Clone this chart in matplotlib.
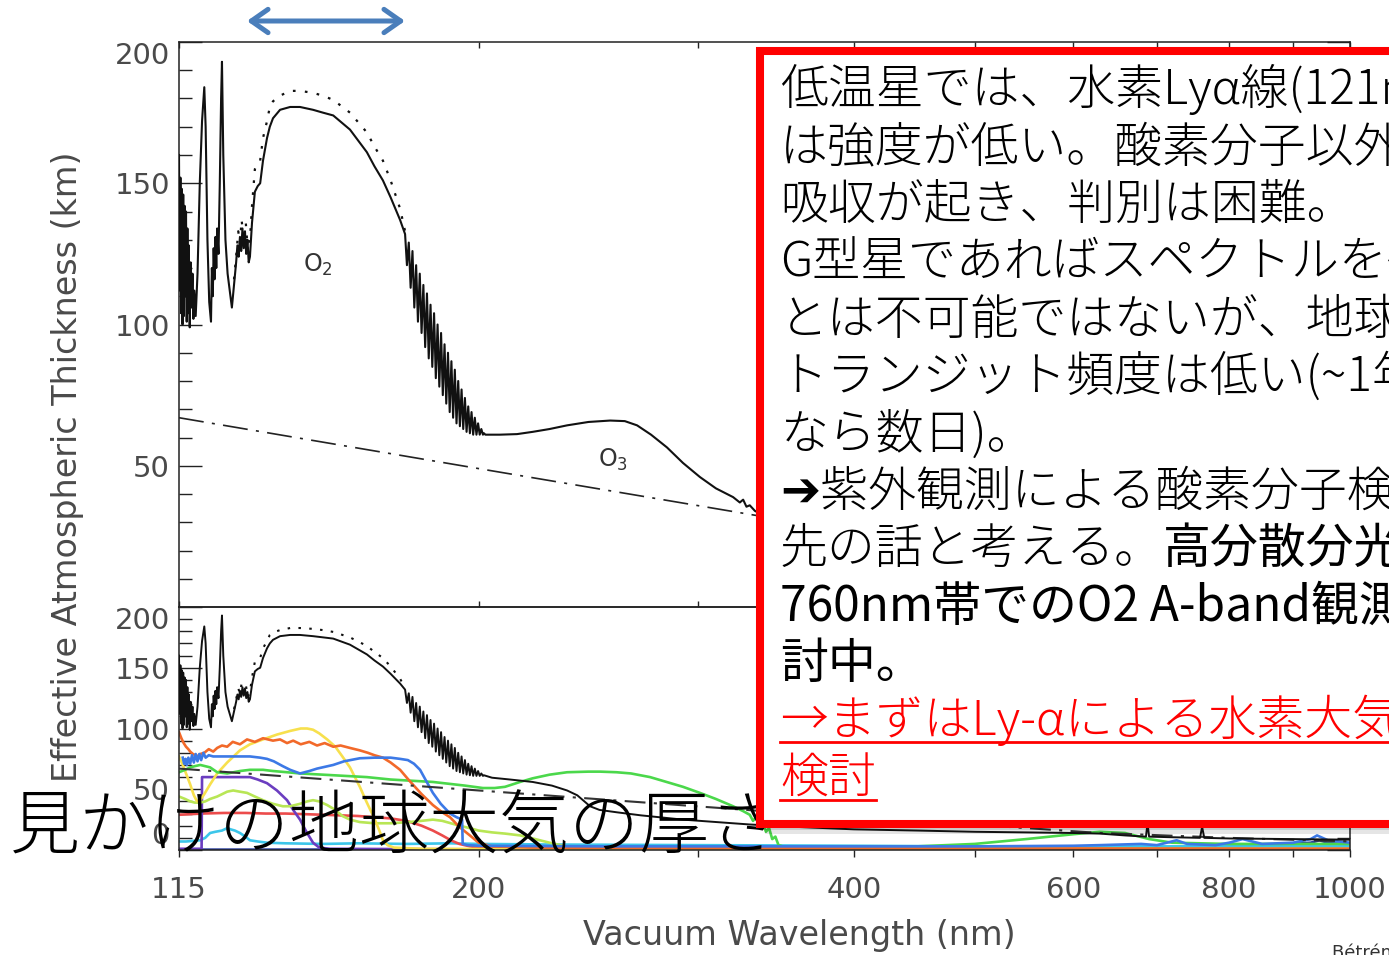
import matplotlib
matplotlib.use('Agg')
import matplotlib.pyplot as plt
from matplotlib import font_manager as fm
from matplotlib.patches import Rectangle, FancyArrowPatch
from matplotlib.lines import Line2D
from matplotlib.ticker import FixedLocator, NullFormatter

# ---------------- data (wavelength nm, effective thickness km) ----------------
# O2-dominated far-UV part (shared by both panels)
uv_wl = [115.0, 115.15, 115.3, 115.45, 115.6, 115.75, 115.9, 116.05, 116.2, 116.35, 116.5, 116.65,
         116.8, 116.95, 117.1, 117.3, 117.5, 117.7, 117.9, 118.1, 118.3, 118.6, 119.0, 119.5, 120.0,
         120.5, 120.8, 121.2, 121.6, 122.0, 122.2, 122.4, 122.6, 122.8, 123.0, 123.2, 123.4, 123.7,
         124.0, 124.3, 124.5, 124.8, 125.3, 125.8, 126.3, 126.8, 127.3, 127.8, 128.1, 128.4, 128.7,
         129.0, 129.3, 129.6, 129.9, 130.2, 130.5, 130.8, 131.1, 131.6, 132.3, 133.0, 133.6, 134.3,
         135.3, 136.0, 136.8, 138.6, 141.2, 143.8, 147.3, 150.0, 152.9, 157.7, 162.7, 165.0, 167.6,
         170.0, 173.0, 174.6,
         175.2, 175.8, 176.4, 177.0, 177.6, 178.2, 178.8, 179.4, 180.0, 180.6, 181.2, 181.8, 182.4,
         183.0, 183.6, 184.2, 184.8, 185.4, 186.0, 186.6, 187.2, 187.8, 188.4, 189.0, 189.6, 190.2,
         190.8, 191.4, 192.0, 192.6, 193.2, 193.8, 194.4, 195.0, 195.6, 196.2, 196.8, 197.4, 198.0,
         198.6, 199.2, 199.8, 200.4, 201.0, 201.6, 202.0]
uv_km = [160, 112, 152, 104, 148, 100, 146, 103, 142, 110, 140, 101,
         134, 104, 128, 99, 122, 106, 118, 102, 112, 103, 118, 150, 172,
         184, 170, 130, 108, 101, 120, 110, 127, 116, 131, 120, 134, 125,
         150, 180, 193, 160, 130, 118, 112, 106, 114, 122, 128, 124, 131,
         126, 134, 127, 133, 125, 130, 122, 124, 136, 147, 149, 150, 158,
         166, 170, 173, 176, 177, 177, 176, 175, 174, 169, 161, 156, 151,
         145, 137, 132,
         121, 129, 113, 126, 106, 121, 101, 118, 97, 114, 92, 111, 88,
         107, 85, 104, 81, 100, 78, 97, 75, 93, 72, 90, 69, 87,
         67, 84, 65, 80, 64, 77, 63, 74, 62, 71, 61.5, 69, 61,
         67, 61, 65, 61, 63, 61, 61.5]

# top panel continuation (O3 Hartley band)
top_tail_wl = [202.5, 208, 214.7, 221, 228, 235.5, 245, 255, 262, 268, 275, 283.2, 291.7, 301, 310,
               320, 324, 326, 328, 330, 333.2, 340, 350]
top_tail_km = [61, 61, 61.2, 62, 63, 64.3, 65.5, 66, 65.8, 64.3, 61, 56.5, 51, 46, 42,
               38.9, 37, 38, 35.5, 36, 34, 32, 30]

# bottom panel continuation of the total curve
bot_tail_wl = [205, 212, 221, 229, 235.5, 240, 242.5, 245.7, 250, 258.3, 270, 291.7, 310, 330, 360,
               400, 450, 500, 550, 600, 630, 660, 686, 688, 690, 720, 758, 761, 764, 800, 900, 1000]
bot_tail_km = [59.5, 58, 56, 53, 49, 45, 41, 36, 33, 31, 28.5, 25, 23, 21, 19,
               17, 16, 15, 14.5, 14, 13.5, 12, 11, 22, 11, 10.5, 10, 19, 10, 9.5, 9, 8.5]

# dotted curve (upper O2 envelope)
dot_wl = [127.3, 127.8, 128.3, 128.7, 129.1, 129.6, 130.1, 130.6, 131.1, 131.6, 132.3, 133.0, 133.6,
          134.3, 135.3, 136.0, 136.8, 138.6, 141.2, 143.8, 147.3, 150.0, 152.9, 157.7, 162.7, 165.0,
          167.6, 170.0, 173.0, 174.6]
dot_km = [116, 124, 133, 129, 137, 130, 136, 126, 130, 142, 155, 157, 158,
          166, 172, 177, 179, 181, 182.7, 182.7, 182, 181, 179.5, 175, 168, 163,
          158, 151, 141, 133]

# Rayleigh (dash-dot)
ray_wl = [115, 200, 333, 450, 630, 800, 1000]
ray_km = [67, 49, 32.5, 24, 14, 10, 7]

# coloured curves of the lower panel
orange_wl = [115, 115.5, 116, 116.5, 117, 117.4, 118, 118.5, 118.9, 119.6, 120.5, 121.5, 122.5, 123.4,
             124.5, 125.7, 127, 128.7, 130.4, 132.3, 134.3, 136.8, 138.6, 140.4, 142, 144, 146.3, 148.4,
             150.5, 152.9, 155, 157.7, 160.6, 163, 165, 167.6, 170, 173, 176, 180, 183.8, 187, 189.7,
             193, 196.8, 200, 205, 220, 300, 500, 1000]
orange_km = [97, 92, 88, 85, 83, 81, 79, 78, 77, 79, 80, 83, 81, 84,
             86, 85, 89, 87, 91, 89, 92, 90, 91, 88, 90, 87, 89, 86,
             88, 85, 86, 84, 82, 80, 78, 76, 72, 66, 57, 46, 37, 31, 27,
             19, 12, 6, 3, 2, 1.5, 1.2, 1]

yellow_wl = [115, 115.8, 116.6, 117.4, 118.2, 118.9, 119.6, 120.5, 121.8, 123.4, 125.7, 128.7, 131.1,
             134.3, 137.8, 141.2, 144, 145.7, 147.3, 149, 151.2, 153.5, 155.5, 157.7, 160.6, 162.7,
             164.8, 166.5, 167.6, 169, 171, 180, 250, 1000]
yellow_km = [77, 70, 62, 54, 45, 40, 41, 46, 54, 63, 72, 82, 87,
             91, 95, 98, 100, 100, 99, 96, 91, 85, 77, 68, 52, 39,
             27, 16, 8, 4, 2, 1, 0.5, 0.5]

blue_wl = [115.8, 116.1, 116.4, 116.7, 117.0, 117.4, 117.8, 118.2, 118.6, 119.0, 119.4, 119.8, 120.3,
           120.8, 121.5, 122.5, 124, 126.4, 128.7, 131.1, 133.6, 135.3, 137, 139.3, 141.2, 143.8,
           146.3, 148.4, 152.9, 156, 160.6, 165, 167.6, 170, 173, 175.5, 177.5, 179.5, 181.5, 183.8,
           186.5, 189.7, 192, 194.0, 194.2, 196, 200, 250, 350, 500, 600, 630, 680, 700, 726, 740,
           780, 800, 820, 850, 900, 930, 941, 960, 1000]
blue_km = [76, 71, 75, 70, 76, 71, 78, 72, 79, 73, 79, 74, 80,
           76, 78, 77, 77, 77, 77, 77, 76, 75, 73, 69, 66, 63,
           65, 67, 70, 73, 75.5, 76, 76, 76, 75, 74, 71, 66, 57, 47,
           38, 30, 27, 25, 5, 4, 3.5, 3, 3, 3, 3.5, 4, 5, 4, 8, 5,
           4, 6, 9, 5, 6, 9, 12, 8, 6]

green_wl = [115, 116.3, 117.4, 118.4, 119.6, 120.7, 121.8, 123.4, 125.7, 128.7, 131.1, 134.3, 136.8,
            140.4, 143.8, 150, 162.7, 170, 183.8, 195, 201.6, 206, 210, 215.9, 221, 228, 235.5, 245,
            250.3, 258, 265, 274.5, 283, 291.7, 301, 310, 320, 326, 330, 332, 334, 336, 338, 340, 342,
            344, 346, 348, 352, 400, 450, 500, 550, 600, 630, 660, 690, 720, 800, 1000]
green_km = [64, 66, 68, 69, 70, 69, 68, 64, 63, 65, 66, 66, 65,
            64, 63, 62, 60, 58, 56, 53, 51, 51, 52, 56, 59, 62, 64, 64.5,
            64.5, 64, 63, 60, 56, 52, 47, 42, 36, 32, 29, 24, 27, 20, 23, 15, 18,
            9, 11, 4, 2.5, 2.5, 3, 5, 9, 13, 15, 14, 9, 6, 5, 5]

lgreen_wl = [115, 116.3, 117.4, 118.4, 119.6, 120.7, 121.8, 123.4, 125.7, 127.1, 128.7, 130.4, 132.3,
             134.3, 136.8, 139.3, 141.2, 143.8, 145.7, 147.3, 149, 151.2, 153.5, 155.5, 157.7, 160.6,
             165, 170, 176, 180, 183.8, 187, 190, 193, 196.8, 200, 205, 210, 216, 222, 228, 235, 245,
             300, 1000]
lgreen_km = [44, 42, 40, 39, 39, 40, 42, 44, 48, 49, 48, 47, 44,
             41, 38, 36, 36, 38, 40, 41, 40, 37, 33, 28, 25, 23,
             22, 22, 23, 24, 25, 24, 22, 20, 18, 16, 14.5, 13.5, 12, 9, 6, 3, 1.5,
             1, 1]

red_wl = [115, 120, 125, 130, 135, 140, 145, 150, 155, 160, 165, 170, 175, 180, 183.8, 187, 190, 193,
          196.8, 200, 210, 300, 1000]
red_km = [29, 30, 30.5, 30.5, 30, 30, 29.5, 29, 28.5, 28, 27, 26, 24, 20, 16, 12, 8, 5,
          3, 2, 1.5, 1.2, 1]

purple_wl = [115, 119.9, 120.0, 122, 125, 128, 131.1, 133, 135.3, 137.8, 140.4, 142, 143.8, 145.5,
             147.3, 149, 152, 200, 1000]
purple_km = [1, 1, 60, 60, 60, 60, 60, 58, 55, 49, 41, 33, 25, 15,
             6, 2, 1, 0.5, 0.5]

cyan_wl = [115, 116.5, 118, 119.6, 120.7, 121.8, 123, 124.5, 125.7, 126.5, 127.5, 128.7, 130, 131.1,
           133, 135.3, 140, 150, 160, 175, 190, 200, 230, 300, 400, 500, 700, 1000]
cyan_km = [7, 7, 7.5, 8, 10, 14, 15, 16, 18, 17, 16, 14, 11, 8,
           7, 6, 5.5, 5, 5.5, 5, 5.5, 5, 4.5, 4, 3.5, 3, 3, 3]

navy_wl = [115, 300, 500, 600, 700, 780, 820, 860, 900, 930, 945, 960, 1000]
navy_km = [0.3, 0.5, 0.8, 1, 2, 3, 3, 4, 5, 6, 8, 6, 4]

x_tick_vals = [115, 200, 400, 600, 800, 1000]
x_tick_labels = ['115', '200', '400', '600', '800', '1000']
x_minor_vals = [300, 500, 700, 900]
top_y_vals = [50, 100, 150, 200]
bot_y_vals = [0, 50, 100, 150, 200]

title_text = "見かけの地球大気の厚さ"
box_lines = [
    [("低温星では、水素Lyα線(121nm", 'normal', 'black')],
    [("は強度が低い。酸素分子以外の", 'normal', 'black')],
    [("吸収が起き、判別は困難。", 'normal', 'black')],
    [("G型星であればスペクトルを得るこ", 'normal', 'black')],
    [("とは不可能ではないが、地球型", 'normal', 'black')],
    [("トランジット頻度は低い(~1年", 'normal', 'black')],
    [("なら数日)。", 'normal', 'black')],
    [("➔紫外観測による酸素分子検出は", 'normal', 'black')],
    [("先の話と考える。", 'normal', 'black'), ("高分散分光によ", 'bold', 'black')],
    [("760nm帯でのO2 A-band観測を検", 'bold', 'black')],
    [("討中。", 'bold', 'black')],
    [("→まずはLy-αによる水素大気の", 'normal', '#ff0000')],
    [("検討", 'normal', '#ff0000')],
]
underlined = [11, 12]

# ---------------- fonts ----------------
def _wnum(w):
    if isinstance(w, (int, float)):
        return int(w)
    return fm.weight_dict.get(str(w).lower(), 400)


_cands = [f for f in fm.fontManager.ttflist if f.name.startswith('Noto Sans CJK JP')]


def pick_cjk(target):
    if not _cands:
        return 'Noto Sans CJK JP', 400
    f = min(_cands, key=lambda f: (abs(_wnum(f.weight) - target), f.name != 'Noto Sans CJK JP'))
    return f.name, _wnum(f.weight)


light_name, light_w = pick_cjk(300)
mid_name, mid_w = pick_cjk(400)
if mid_w <= light_w:
    mid_name, mid_w = pick_cjk(700)
FONT_CJK = {'normal': (light_name, light_w), 'bold': (mid_name, mid_w)}

# ---------------- figure ----------------
W, H = 1389, 955
fig = plt.figure(figsize=(W / 100, H / 100), dpi=100)
fig.patch.set_facecolor('white')


def fx(px):
    return px / W


def fy(py):
    return 1 - py / H


L, R = 179, 1350
ax1 = fig.add_axes([fx(L), fy(607), (R - L) / W, (607 - 42) / H])
ax2 = fig.add_axes([fx(L), fy(850), (R - L) / W, (850 - 607) / H])

# top panel
ax1.plot(uv_wl + top_tail_wl, uv_km + top_tail_km, color='#111111', lw=1.5, zorder=3)
ax1.plot(dot_wl, dot_km, color='#111111', lw=1.6, ls=(0, (1.2, 4.2)), zorder=3)
ax1.plot(ray_wl, ray_km, color='#222222', lw=1.2, ls=(0, (15, 5, 1.8, 5)), zorder=3)
ax1.text(148.7, 121, "O$_2$", fontsize=17, color='#333333', ha='center', va='center')
ax1.text(256.4, 52, "O$_3$", fontsize=17, color='#333333', ha='center', va='center')

# bottom panel
col_series = [
    (navy_wl, navy_km, '#2b3f9e'),
    (cyan_wl, cyan_km, '#3cc6ea'),
    (red_wl, red_km, '#ec4b4b'),
    (purple_wl, purple_km, '#6b3dc0'),
    (lgreen_wl, lgreen_km, '#b8e655'),
    (yellow_wl, yellow_km, '#f7e04d'),
    (green_wl, green_km, '#4bd84b'),
    (orange_wl, orange_km, '#f2692a'),
    (blue_wl, blue_km, '#3c79e6'),
]
for wl, km, c in col_series:
    ax2.plot(wl, km, color=c, lw=1.9, zorder=2)
ax2.plot(ray_wl, ray_km, color='#333333', lw=1.5, ls=(0, (10, 4, 1.5, 4)), zorder=3)
ax2.plot(uv_wl + bot_tail_wl, uv_km + bot_tail_km, color='#111111', lw=1.4, zorder=3)
ax2.plot(dot_wl, dot_km, color='#111111', lw=1.5, ls=(0, (1.2, 4)), zorder=3)

minor_y = [v for v in range(10, 200, 10) if v % 50 != 0]
for ax in (ax1, ax2):
    ax.set_xscale('log')
    ax.set_xlim(115, 1000)
    ax.set_ylim(0, 200)
    for s in ax.spines.values():
        s.set_color('#222222')
        s.set_linewidth(1.1)
    ax.xaxis.set_major_locator(FixedLocator(x_tick_vals))
    ax.xaxis.set_minor_locator(FixedLocator(x_minor_vals))
    ax.xaxis.set_minor_formatter(NullFormatter())
    ax.yaxis.set_minor_locator(FixedLocator(minor_y))
    ax.tick_params(axis='y', which='major', direction='in', length=16.5, width=1.0,
                   left=True, right=True, color='#222222', labelcolor='#4a4a4a',
                   labelsize=21, pad=6.5)
    ax.tick_params(axis='y', which='minor', direction='in', length=9.4, width=1.0,
                   left=True, right=True, color='#222222')
    ax.patch.set_alpha(0)

ax1.set_yticks(top_y_vals, labels=[str(v) for v in top_y_vals])
ax2.set_yticks(bot_y_vals, labels=[str(v) for v in bot_y_vals])
ax1.set_xticks(x_tick_vals, labels=x_tick_labels)
ax2.set_xticks(x_tick_vals, labels=x_tick_labels)
ax1.tick_params(axis='x', which='both', direction='in', length=4, width=1.0, top=True,
                bottom=True, labelbottom=False, color='#222222')
ax2.tick_params(axis='x', which='both', direction='out', length=5, width=1.0, top=False,
                bottom=True, labelsize=21, labelcolor='#4a4a4a', pad=14, color='#222222')

t1 = ax1.yaxis.get_major_ticks()
t1[-1].label1.set_verticalalignment('top')
t2 = ax2.yaxis.get_major_ticks()
t2[0].label1.set_verticalalignment('bottom')
t2[-1].label1.set_verticalalignment('top')

fig.text(fx(68), fy(467), "Effective Atmospheric Thickness (km)", rotation=90,
         ha='center', va='center', fontsize=24, color='#4a4a4a')
fig.text(fx(799), fy(935), "Vacuum Wavelength (nm)", ha='center', va='center',
         fontsize=24, color='#4a4a4a')

# big slide title
fig.text(fx(10), fy(849), title_text, family=[light_name, 'DejaVu Sans'], fontweight=light_w,
         fontsize=50.4, color='black', va='baseline', ha='left', zorder=4)

# red box with shadow
fig.add_artist(Rectangle((fx(765), fy(834)), (1420 - 765) / W, (834 - 56) / H,
                         transform=fig.transFigure, facecolor='black', alpha=0.10,
                         edgecolor='none', zorder=4.8))
fig.add_artist(Rectangle((fx(763), fy(830)), (1420 - 763) / W, (830 - 54) / H,
                         transform=fig.transFigure, facecolor='black', alpha=0.12,
                         edgecolor='none', zorder=4.9))
fig.add_artist(Rectangle((fx(760), fy(824)), (1420 - 760) / W, (824 - 51) / H,
                         transform=fig.transFigure, facecolor='white', edgecolor='#ff0000',
                         lw=5.8, zorder=5))

# box text
fig.canvas.draw()
renderer = fig.canvas.get_renderer()
base0, pitch = 104.0, 57.4
for i, segs in enumerate(box_lines):
    yb = base0 + pitch * i
    xpx = 780.0
    for txt, wt, col in segs:
        fam, fw = FONT_CJK[wt]
        t = fig.text(fx(xpx), fy(yb), txt, family=[fam, 'DejaVu Sans'], fontsize=34.5,
                     fontweight=fw, color=col, va='baseline', ha='left', zorder=6)
        ext = t.get_window_extent(renderer)
        if i in underlined:
            fig.add_artist(Line2D([fx(xpx), min(ext.x1, W + 5) / W], [fy(yb + 7), fy(yb + 7)],
                                  transform=fig.transFigure, color=col, lw=2.0, zorder=6))
        xpx = ext.x1

# blue double arrow
fig.add_artist(FancyArrowPatch((fx(247), fy(21)), (fx(405), fy(21)), transform=fig.transFigure,
                               arrowstyle='<->,head_length=0.6,head_width=0.42',
                               mutation_scale=20, color='#4a7ebb', lw=3.6, shrinkA=0,
                               shrinkB=0, zorder=6))

# citation (cut at the bottom edge)
fig.text(fx(1332), fy(943), "Bétrémieux & Kaltenegger 2013", fontsize=13, color='#333333',
         va='top', ha='left')

fig.savefig('out.png', dpi=100)
